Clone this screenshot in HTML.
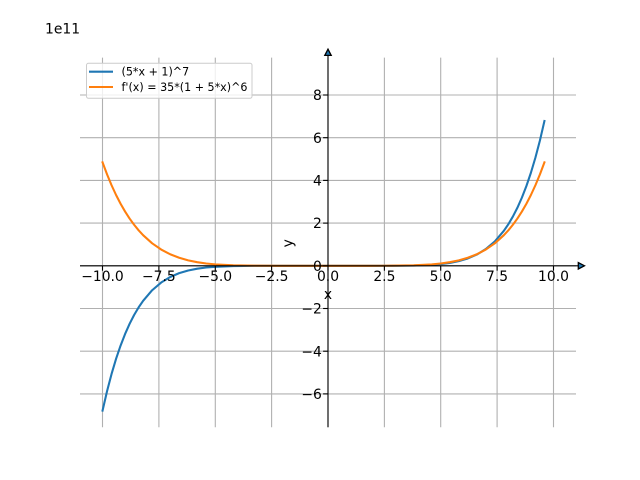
<!DOCTYPE html>
<html>
<head>
<meta charset="utf-8">
<style>
html,body{margin:0;padding:0;background:#fff;}
svg{display:block;}
text{font-family:"DejaVu Sans","Liberation Sans",sans-serif;fill:#000;}
</style>
</head>
<body>
<svg width="640" height="480" viewBox="0 0 640 480" xmlns="http://www.w3.org/2000/svg">
<rect x="0" y="0" width="640" height="480" fill="#fff"/>
<!-- grid -->
<g stroke="#b0b0b0" stroke-width="1.1" fill="none">
<line x1="102.5" y1="57.6" x2="102.5" y2="427.2"/>
<line x1="158.9" y1="57.6" x2="158.9" y2="427.2"/>
<line x1="215.3" y1="57.6" x2="215.3" y2="427.2"/>
<line x1="271.6" y1="57.6" x2="271.6" y2="427.2"/>
<line x1="328" y1="57.6" x2="328" y2="427.2"/>
<line x1="384.4" y1="57.6" x2="384.4" y2="427.2"/>
<line x1="440.7" y1="57.6" x2="440.7" y2="427.2"/>
<line x1="497.1" y1="57.6" x2="497.1" y2="427.2"/>
<line x1="553.5" y1="57.6" x2="553.5" y2="427.2"/>
<line x1="80" y1="95.0" x2="576" y2="95.0"/>
<line x1="80" y1="137.7" x2="576" y2="137.7"/>
<line x1="80" y1="180.4" x2="576" y2="180.4"/>
<line x1="80" y1="223.1" x2="576" y2="223.1"/>
<line x1="80" y1="265.8" x2="576" y2="265.8"/>
<line x1="80" y1="308.5" x2="576" y2="308.5"/>
<line x1="80" y1="351.2" x2="576" y2="351.2"/>
<line x1="80" y1="393.9" x2="576" y2="393.9"/>
</g>
<!-- curves -->
<polyline fill="none" stroke="#1f77b4" stroke-width="2.08" stroke-linejoin="round" stroke-linecap="square" points="102.55,410.6 107.06,391.14 111.56,373.96 116.07,358.85 120.58,345.58 125.09,333.97 129.60,323.83 134.11,315.02 138.62,307.38 143.13,300.78 152.15,290.23 161.17,282.53 170.18,277.01 179.20,273.14 188.22,270.47 197.24,268.68 206.26,267.51 215.27,266.78 233.31,266.07 255.86,265.8 278.40,265.8 323.49,265.8 368.58,265.8 391.13,265.8 413.67,265.53 431.71,264.82 440.72,264.09 449.74,262.92 458.76,261.13 467.78,258.46 476.80,254.59 485.81,249.07 494.83,241.37 503.85,230.82 508.36,224.22 512.87,216.58 517.38,207.77 521.89,197.63 526.40,186.02 530.90,172.75 535.41,157.64 539.92,140.46 544.43,121.0"/>
<polyline fill="none" stroke="#ff7f0e" stroke-width="2.08" stroke-linejoin="round" stroke-linecap="square" points="102.55,162.37 107.06,174.41 111.56,185.25 116.07,195.00 120.58,203.75 125.09,211.58 129.60,218.56 134.11,224.78 138.62,230.31 143.13,235.19 152.15,243.30 161.17,249.53 170.18,254.26 179.20,257.78 188.22,260.35 197.24,262.20 206.26,263.49 215.27,264.37 233.31,265.32 255.86,265.71 278.40,265.8 323.49,265.8 368.58,265.8 391.13,265.71 413.67,265.32 431.71,264.37 440.72,263.49 449.74,262.20 458.76,260.35 467.78,257.78 476.80,254.26 485.81,249.53 494.83,243.30 503.85,235.19 508.36,230.31 512.87,224.78 517.38,218.56 521.89,211.58 526.40,203.75 530.90,195.00 535.41,185.25 539.92,174.41 544.43,162.37"/>
<!-- spines -->
<g stroke="#000" stroke-width="1.1">
<line x1="80" y1="265.8" x2="579" y2="265.8"/>
<line x1="328" y1="427.2" x2="328" y2="54"/>
</g>
<!-- ticks -->
<g stroke="#000" stroke-width="1.1">
<line x1="102.5" y1="265.8" x2="102.5" y2="270.7"/>
<line x1="158.9" y1="265.8" x2="158.9" y2="270.7"/>
<line x1="215.3" y1="265.8" x2="215.3" y2="270.7"/>
<line x1="271.6" y1="265.8" x2="271.6" y2="270.7"/>
<line x1="328" y1="265.8" x2="328" y2="270.7"/>
<line x1="384.4" y1="265.8" x2="384.4" y2="270.7"/>
<line x1="440.7" y1="265.8" x2="440.7" y2="270.7"/>
<line x1="497.1" y1="265.8" x2="497.1" y2="270.7"/>
<line x1="553.5" y1="265.8" x2="553.5" y2="270.7"/>
<line x1="323.1" y1="95.0" x2="328" y2="95.0"/>
<line x1="323.1" y1="137.7" x2="328" y2="137.7"/>
<line x1="323.1" y1="180.4" x2="328" y2="180.4"/>
<line x1="323.1" y1="223.1" x2="328" y2="223.1"/>
<line x1="323.1" y1="265.8" x2="328" y2="265.8"/>
<line x1="323.1" y1="308.5" x2="328" y2="308.5"/>
<line x1="323.1" y1="351.2" x2="328" y2="351.2"/>
<line x1="323.1" y1="393.9" x2="328" y2="393.9"/>
</g>
<!-- arrows -->
<polygon points="584.5,265.8 578.3,262.6 578.3,269.0" fill="#1f77b4" stroke="#000" stroke-width="1.3" stroke-linejoin="miter"/>
<polygon points="328,49.2 324.8,55.4 331.2,55.4" fill="#1f77b4" stroke="#000" stroke-width="1.3" stroke-linejoin="miter"/>
<!-- tick labels -->
<g font-size="13.89" text-anchor="middle">
<text x="102.5" y="280.8">−10.0</text>
<text x="158.9" y="280.8">−7.5</text>
<text x="215.3" y="280.8">−5.0</text>
<text x="271.6" y="280.8">−2.5</text>
<text x="328" y="280.8">0.0</text>
<text x="384.4" y="280.8">2.5</text>
<text x="440.7" y="280.8">5.0</text>
<text x="497.1" y="280.8">7.5</text>
<text x="553.5" y="280.8">10.0</text>
</g>
<g font-size="13.89" text-anchor="end">
<text x="321.8" y="100.1">8</text>
<text x="321.8" y="142.8">6</text>
<text x="321.8" y="185.5">4</text>
<text x="321.8" y="228.2">2</text>
<text x="321.8" y="270.9">0</text>
<text x="321.8" y="313.6">−2</text>
<text x="321.8" y="356.3">−4</text>
<text x="321.8" y="399.0">−6</text>
</g>
<text x="45" y="33.3" font-size="13.89">1e11</text>
<text x="328" y="299" font-size="13.89" text-anchor="middle">x</text>
<text x="0" y="0" font-size="13.89" text-anchor="middle" transform="translate(292.6,243.3) rotate(-90)">y</text>
<!-- legend -->
<rect x="86.5" y="63.3" width="165.5" height="35" rx="2" ry="2" fill="#fff" fill-opacity="0.8" stroke="#cccccc" stroke-width="1"/>
<line x1="89" y1="71.7" x2="113" y2="71.7" stroke="#1f77b4" stroke-width="2.08"/>
<line x1="89" y1="87.0" x2="113" y2="87.0" stroke="#ff7f0e" stroke-width="2.08"/>
<text x="121.5" y="75.6" font-size="11.11">(5*x + 1)^7</text>
<text x="121.5" y="91.0" font-size="11.11">f'(x) = 35*(1 + 5*x)^6</text>
</svg>
</body>
</html>
